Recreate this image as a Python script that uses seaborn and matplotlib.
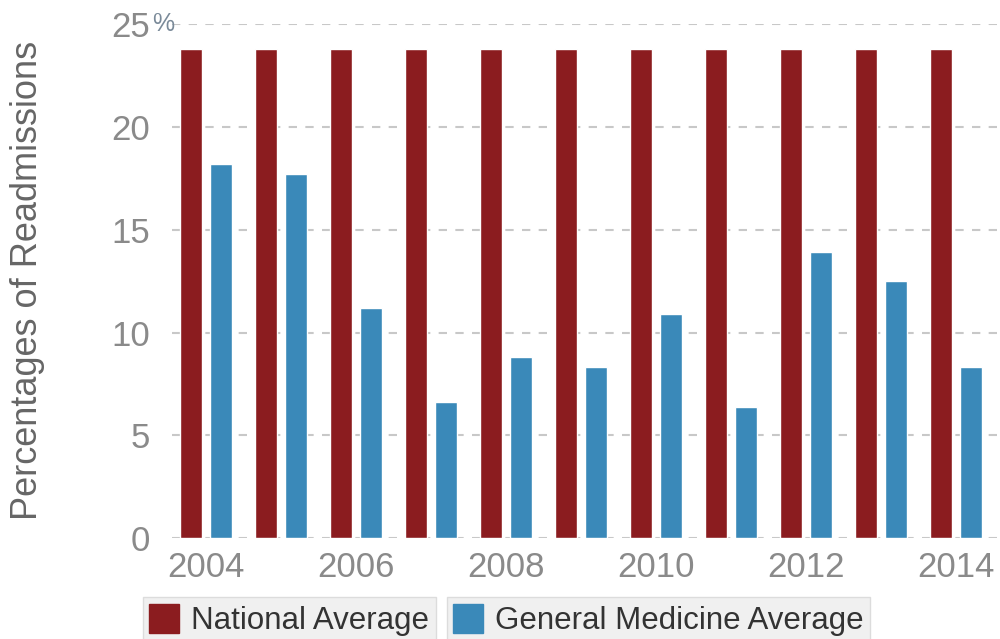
import pandas as pd
import matplotlib
matplotlib.use('Agg')
import matplotlib.pyplot as plt
import seaborn as sns
from matplotlib.patches import Patch

years = [2004, 2005, 2006, 2007, 2008, 2009, 2010, 2011, 2012, 2013, 2014]
national = [23.8, 23.8, 23.8, 23.8, 23.8, 23.8, 23.8, 23.8, 23.8, 23.8, 23.8]
gen_med = [18.2, 17.7, 11.2, 6.6, 8.8, 8.3, 10.9, 6.4, 13.9, 12.5, 8.3]
series_names = ['National Average', 'General Medicine Average']
colors = ['#8b1c1f', '#3a89b9']

sns.set_style('white')
plt.rcParams['font.family'] = ['Liberation Sans', 'DejaVu Sans']

df = pd.DataFrame({
    'year': [str(y) for y in years] * 2,
    'value': national + gen_med,
    'series': [series_names[0]] * len(years) + [series_names[1]] * len(years),
})

fig = plt.figure(figsize=(10, 6.39), dpi=100)
ax = fig.add_axes([0.172, 0.158, 0.828, 0.804])

sns.barplot(data=df, x='year', y='value', hue='series', palette=colors,
            width=0.8, gap=0.27, saturation=1, ax=ax, legend=False, zorder=3)

ax.set_ylim(0, 25)
ax.set_xlim(-0.45, 10.59)
ax.set_yticks([0, 5, 10, 15, 20, 25])
ax.set_yticklabels(['0', '5', '10', '15', '20', '25'])
ax.set_xticks(range(0, 11, 2))
ax.set_xticklabels([str(y) for y in years[::2]])
for lab in ax.get_xticklabels() + ax.get_yticklabels():
    lab.set_fontsize(25)
    lab.set_color('#8a8a8a')
ax.tick_params(axis='y', length=0, pad=16)
ax.tick_params(axis='x', length=0, pad=9)
ax.yaxis.grid(True, linestyle=(0, (4, 4)), color='#c8c8c8', linewidth=1.5, zorder=0)
ax.xaxis.grid(False)
for s in ax.spines.values():
    s.set_visible(False)

ax.set_xlabel('')
ax.set_ylabel('Percentages of Readmissions', fontsize=26, color='#666666')
ax.yaxis.set_label_coords(-0.153, 0.502)

fig.text(0.152, 0.962, '%', fontsize=18, color='#7a8a99', va='center', ha='left')

# two separate boxed legend entries under the plot
lx = [0.143, 0.447]
for i in range(2):
    leg = fig.legend(handles=[Patch(facecolor=colors[i], edgecolor=colors[i])],
                     labels=[series_names[i]], loc='upper left',
                     bbox_to_anchor=(lx[i], 0.065), bbox_transform=fig.transFigure,
                     prop={'size': 22.5}, frameon=True, fancybox=False,
                     facecolor='#f0f0f0', edgecolor='#dcdcdc', framealpha=1,
                     handlelength=0.95, handleheight=1.05, handletextpad=0.4,
                     borderpad=0.2, borderaxespad=0)
    for t in leg.get_texts():
        t.set_color('#333333')

plt.savefig('out.png', dpi=100)
